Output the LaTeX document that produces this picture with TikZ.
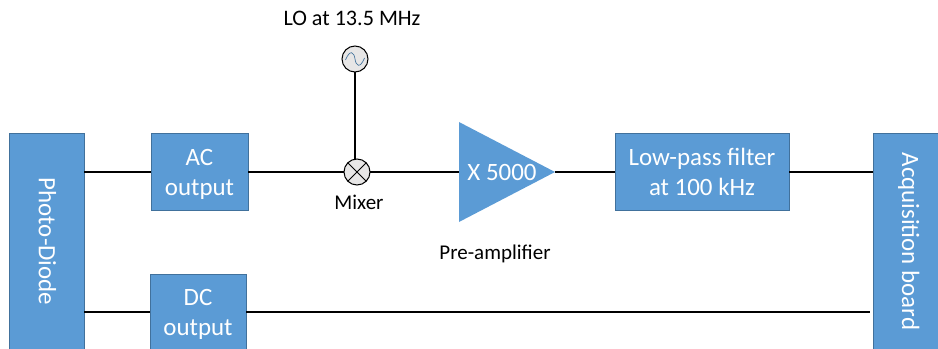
\documentclass[tikz,border=0pt]{standalone}
\usepackage{fontspec}
\setmainfont{Carlito}
\usetikzlibrary{shapes.geometric,positioning,calc}
\definecolor{azul}{HTML}{5B9BD5}
\definecolor{azuloscuro}{HTML}{41719C}
\definecolor{grisclaro}{HTML}{E7E6E6}
\tikzset{
  bloque/.style={draw=azuloscuro,fill=azul,text=white,line width=0.75pt,align=center,font=\fontsize{18.7}{22.5}\selectfont,inner sep=0pt,outer sep=0pt},
  bloqueh/.style={bloque,text depth=-1pt},
  bloquev/.style={bloque,rotate=-90},
  ampli/.style={isosceles triangle,isosceles triangle stretches,fill=azul,inner sep=0pt,outer sep=0pt,minimum width=75pt,minimum height=72pt},
  redondo/.style={circle,draw=black,fill=grisclaro,line width=0.75pt,minimum size=19.5pt,inner sep=0pt,outer sep=0pt},
  etiqueta/.style={font=\fontsize{15.75}{18}\selectfont,text=black,inner sep=0pt},
  cable/.style={draw=black,line width=1.5pt},
}
\begin{document}
\begin{tikzpicture}[x=0.75pt,y=-0.75pt]
  \useasboundingbox (0,0) rectangle (938,349);
  \node[bloquev,minimum width=161.25pt,minimum height=56.25pt,text depth=1.5pt] (pd) at (46.5,241.5) {Photo-Diode};
  \node[bloquev,minimum width=161.25pt,minimum height=48.75pt,text depth=8pt] (acq) at (905.5,241.5) {Acquisition board};
  \node[bloqueh,minimum width=72.75pt,minimum height=57pt] (ac) at (199.5,172) {AC\\output};
  \node[bloqueh,minimum width=72pt,minimum height=57pt] (dc) at (198,312) {DC\\output};
  \node[bloqueh,minimum width=130.5pt,minimum height=57pt] (filtro) at (702,172) {Low-pass filter\\at 100 kHz};
  \node[redondo] (mixer) at (357,172) {};
  \node[redondo] (lo) at (355,59) {};
  \node[ampli,anchor=lower side] (amp) at (459,172) {};
  \node[font=\fontsize{18.7}{22.5}\selectfont,text=white,inner sep=0pt] (amptxt) at (502,172.5) {X 5000};
  \draw[line width=0.75pt] (mixer.45) -- (mixer.225) (mixer.135) -- (mixer.315);
  \draw[azuloscuro,line width=0.5pt] ($(lo)+(-9.5,1)$) .. controls ($(lo)+(-5,-10)$) and ($(lo)+(-1,-7)$) .. (lo.center) .. controls ($(lo)+(1,7)$) and ($(lo)+(5,10)$) .. ($(lo)+(9.5,-1)$);
  \node[etiqueta,font=\fontsize{16.6}{18}\selectfont] (lotxt) at (352,18) {LO at 13.5 MHz};
  \node[etiqueta] (mixtxt) at (359,202) {Mixer};
  \node[etiqueta] (preamptxt) at (495,254) {Pre-amplifier};
  \coordinate (dcfin) at (870,312);
  \draw[cable] (pd.north |- ac.west) -- (ac.west);
  \draw[cable] (ac.east) -- (mixer.west);
  \draw[cable] (mixer.east) -- (amp.lower side);
  \draw[cable] (amp.apex) -- (filtro.west);
  \draw[cable] (filtro.east) -- (acq.south |- filtro.east);
  \draw[cable] (lo.south) -- (lo.south |- mixer.north);
  \draw[cable] (pd.north |- dc.west) -- (dc.west);
  \draw[cable] (dc.east) -- (dcfin);
\end{tikzpicture}
\end{document}
